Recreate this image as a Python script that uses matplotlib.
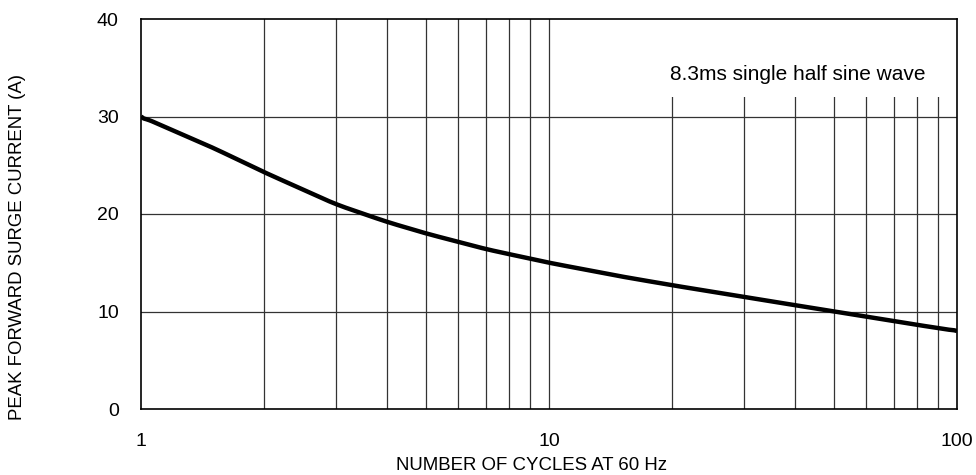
import matplotlib.pyplot as plt
import numpy as np

plt.rcParams['font.family'] = ['Liberation Sans', 'DejaVu Sans']

# surge curve
cycles = [1, 1.5, 2, 3, 4, 5, 7, 10, 15, 20, 30, 50, 70, 100]
current = [30, 26.8, 24.3, 21.0, 19.2, 18.0, 16.4, 15.0, 13.6, 12.7, 11.5, 10.0, 9.0, 8.0]

x_ticks = [1, 10, 100]
y_ticks = [0, 10, 20, 30, 40]

W, H = 976, 475
fig = plt.figure(figsize=(W / 100, H / 100), dpi=100)
ax = fig.add_axes([141 / W, 1 - 409 / H, 816 / W, 390 / H])

ax.set_xscale('log')
ax.set_xlim(1, 100)
ax.set_ylim(0, 40)

# grid: every integer in each decade
for d in [1, 10]:
    for k in range(2, 10):
        ax.axvline(d * k, color='#333333', lw=0.9, zorder=1)
ax.axvline(10, color='#333333', lw=0.9, zorder=1)
for yv in [10, 20, 30]:
    ax.axhline(yv, color='#333333', lw=0.9, zorder=1)

# smooth curve in log space
lx = np.log10(cycles)
xs = np.linspace(0, 2, 300)
ys = np.interp(xs, lx, current)
ker = np.ones(9) / 9
ys_s = np.convolve(np.pad(ys, 4, mode='edge'), ker, mode='valid')
ys_s[0] = current[0]
ys_s[-1] = current[-1]
ax.plot(10 ** xs, ys_s, color='black', lw=3.2, zorder=3, solid_capstyle='butt')

# white box behind the note
ax.add_patch(plt.Rectangle((0.64, 0.8), 0.36, 0.2, transform=ax.transAxes,
                           facecolor='white', edgecolor='none', zorder=2))
ax.text((925 - 141) / 816, (409 - 75) / 390, '8.3ms single half sine wave',
        transform=ax.transAxes, ha='right', va='center', fontsize=15, zorder=4)

ax.set_xticks(x_ticks)
ax.set_xticklabels([str(v) for v in x_ticks])
ax.set_xticks([], minor=True)
ax.set_yticks(y_ticks)
ax.tick_params(axis='both', length=0, labelsize=14)
ax.tick_params(axis='x', pad=17)
ax.tick_params(axis='y', pad=16)

for s in ax.spines.values():
    s.set_linewidth(1.2)
    s.set_zorder(5)

ax.set_xlabel('NUMBER OF CYCLES AT 60 Hz', fontsize=13.4)
ax.xaxis.set_label_coords((532 - 141) / 816, -(465 - 409) / 390)
ax.xaxis.label.set_va('center')
ax.set_ylabel('PEAK FORWARD SURGE CURRENT (A)', fontsize=13.4)
ax.yaxis.set_label_coords(-(141 - 17) / 816, (409 - 247) / 390)
ax.yaxis.label.set_va('center')

fig.savefig('out.png', dpi=100)
